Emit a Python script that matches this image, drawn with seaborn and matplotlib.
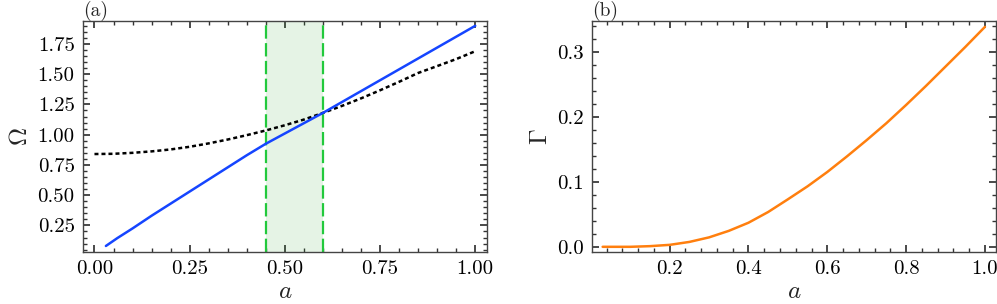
import matplotlib
matplotlib.use("Agg")
import matplotlib.pyplot as plt
import seaborn as sns
from matplotlib.ticker import MultipleLocator, FormatStrFormatter

# panel (a): frequencies
a_blue = [0.03, 0.06, 0.1, 0.15, 0.2, 0.25, 0.3, 0.35, 0.4, 0.45, 0.5, 0.55, 0.6,
          0.65, 0.7, 0.75, 0.8, 0.85, 0.9, 0.95, 1.0]
omega_blue = [0.08, 0.145, 0.225, 0.33, 0.43, 0.53, 0.63, 0.73, 0.83, 0.925, 1.01, 1.095, 1.18,
              1.27, 1.36, 1.45, 1.54, 1.63, 1.72, 1.81, 1.90]
a_black = [0.0, 0.05, 0.1, 0.15, 0.2, 0.25, 0.3, 0.35, 0.4, 0.45, 0.5, 0.55, 0.6,
           0.65, 0.7, 0.75, 0.8, 0.85, 0.9, 0.95, 1.0]
omega_black = [0.84, 0.842, 0.85, 0.862, 0.878, 0.9, 0.928, 0.96, 0.996, 1.035, 1.078, 1.125, 1.18,
               1.238, 1.30, 1.367, 1.437, 1.51, 1.567, 1.625, 1.69]
band = [0.45, 0.60]

# panel (b): damping
a_orange = [0.03, 0.1, 0.15, 0.2, 0.25, 0.3, 0.35, 0.4, 0.45, 0.5, 0.55, 0.6, 0.65,
            0.7, 0.75, 0.8, 0.85, 0.9, 0.95, 1.0]
gamma = [0.0, 0.0, 0.001, 0.003, 0.0075, 0.0145, 0.0245, 0.037, 0.0535, 0.073, 0.093, 0.115, 0.139,
         0.164, 0.190, 0.218, 0.247, 0.277, 0.307, 0.338]

sns.set_theme(style="ticks")
plt.rcParams.update({
    "font.family": ["cmr10", "DejaVu Serif"],
    "mathtext.fontset": "cm",
    "axes.formatter.use_mathtext": True,
    "axes.unicode_minus": False,
    "axes.edgecolor": "#444444",
    "axes.linewidth": 1.0,
    "xtick.direction": "in",
    "ytick.direction": "in",
    "xtick.top": True,
    "ytick.right": True,
    "xtick.minor.visible": True,
    "ytick.minor.visible": True,
    "xtick.major.size": 5,
    "ytick.major.size": 5,
    "xtick.minor.size": 3,
    "ytick.minor.size": 3,
    "xtick.major.pad": 6,
    "ytick.major.pad": 6,
    "xtick.color": "#333333",
    "ytick.color": "#333333",
    "xtick.labelcolor": "black",
    "ytick.labelcolor": "black",
    "xtick.labelsize": 15,
    "ytick.labelsize": 15,
})

fig, axes = plt.subplots(1, 2, figsize=(9.97, 3.04), dpi=100)
fig.subplots_adjust(left=0.0833, right=0.999, bottom=0.171, top=0.931, wspace=0.262)

ax = axes[0]
ax.axvspan(band[0], band[1], color="#2ca02c", alpha=0.12, lw=0)
for b in band:
    ax.axvline(b, color="#22c93c", ls=(0, (6, 2)), lw=1.6)
sns.lineplot(x=a_black, y=omega_black, ax=ax, color="black", lw=1.8, ls=(0, (1.6, 1.2)))
sns.lineplot(x=a_blue, y=omega_blue, ax=ax, color="#1545ff", lw=1.8)
ax.set_xlim(-0.03, 1.03)
ax.set_ylim(0.03, 1.94)
ax.xaxis.set_major_locator(MultipleLocator(0.25))
ax.xaxis.set_minor_locator(MultipleLocator(0.05))
ax.yaxis.set_major_locator(MultipleLocator(0.25))
ax.yaxis.set_minor_locator(MultipleLocator(0.05))
ax.xaxis.set_major_formatter(FormatStrFormatter("%.2f"))
ax.yaxis.set_major_formatter(FormatStrFormatter("%.2f"))
ax.set_xlabel(r"$a$", fontsize=18, labelpad=2)
ax.set_ylabel(r"$\Omega$", fontsize=18)
ax.set_title("(a)", loc="left", fontsize=14, pad=1)

ax = axes[1]
sns.lineplot(x=a_orange, y=gamma, ax=ax, color="#ff7f0e", lw=1.8)
ax.set_xlim(0.004, 1.028)
ax.set_ylim(-0.008, 0.347)
ax.xaxis.set_major_locator(MultipleLocator(0.2))
ax.xaxis.set_minor_locator(MultipleLocator(0.04))
ax.yaxis.set_major_locator(MultipleLocator(0.1))
ax.yaxis.set_minor_locator(MultipleLocator(0.02))
ax.xaxis.set_major_formatter(FormatStrFormatter("%.1f"))
ax.yaxis.set_major_formatter(FormatStrFormatter("%.1f"))
ax.set_xlabel(r"$a$", fontsize=18, labelpad=2)
ax.set_ylabel(r"$\Gamma$", fontsize=18)
ax.set_title("(b)", loc="left", fontsize=14, pad=1)

fig.savefig("out.png", dpi=100)
